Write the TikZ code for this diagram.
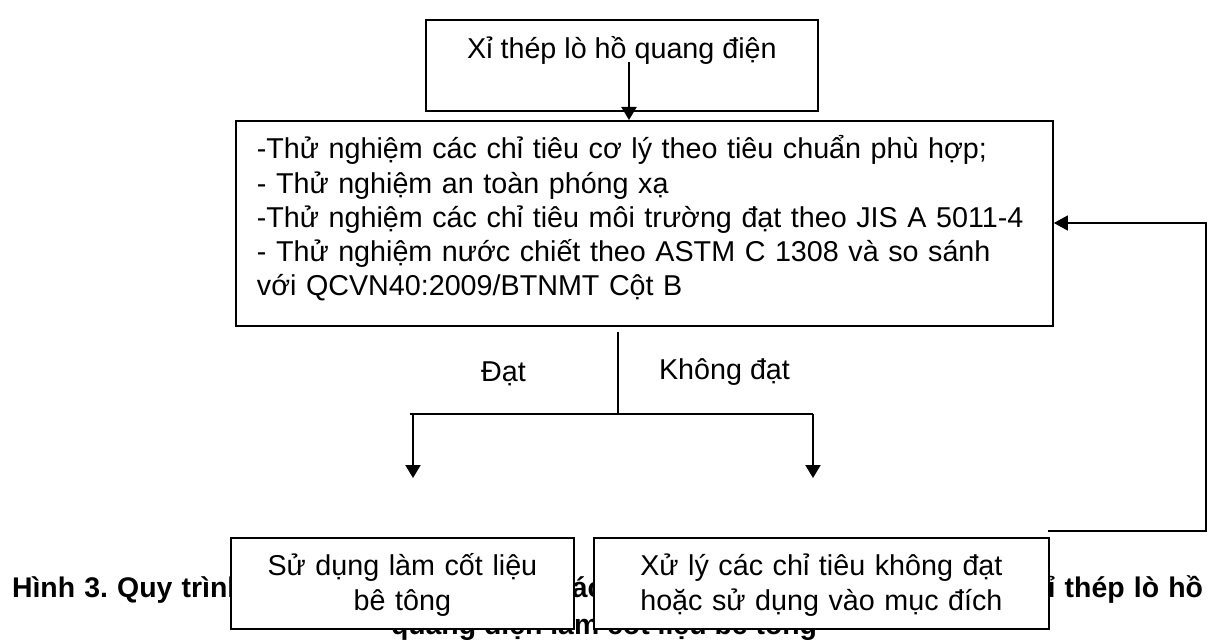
\documentclass[tikz,border=0pt]{standalone}
\usepackage{fontspec}
\setmainfont{Liberation Sans}
\usetikzlibrary{arrows.meta}
\tikzset{every node/.append style={font=\fontsize{14.35pt}{17.1pt}\selectfont}}
\tikzset{
  box/.style={draw,line width=0.9pt,fill=white,inner sep=0pt,anchor=north west},
  arr/.style={line width=1pt,-{Triangle[width=7.5pt,length=6.5pt]}},
  link/.style={line width=0.6pt},
  lbl/.style={anchor=base,inner sep=0pt},
  capt/.style={lbl,font=\fontsize{14.2pt}{17pt}\selectfont\bfseries\frenchspacing}
}

\begin{document}
\begin{tikzpicture}[x=0.5pt,y=-0.5pt]
  \useasboundingbox (0,0) rectangle (1208,642);
  % caption, partly hidden by the two lower boxes
  \node[capt] (cap1) at (607.5,597)
    {\makebox[595.5pt][s]{Hình 3. Quy trình thử nghiệm, đánh giá các chỉ tiêu cơ lý, môi trường của xỉ thép lò hồ}};
  \node[capt] (cap2) at (604,634) {quang điện làm cốt liệu bê tông};
  % boxes
  \node[box,minimum width=196pt,text height=19.5pt,text depth=26pt] (slag) at (425,19)
    {Xỉ thép lò hồ quang điện};
  \node[box,text width=387.5pt,inner xsep=10.5pt,align=left,text height=19pt,text depth=83.5pt] (test) at (235,120)
    {\begin{tabular}[t]{@{}l@{}}
     -Thử nghiệm các chỉ tiêu cơ lý theo tiêu chuẩn phù hợp;\\
     - Thử nghiệm an toàn phóng xạ\\
     -Thử nghiệm các chỉ tiêu môi trường đạt theo JIS A 5011-4\\
     - Thử nghiệm nước chiết theo ASTM C 1308 và so sánh\\
     với QCVN40:2009/BTNMT Cột B
     \end{tabular}};
  \node[box,text width=171.5pt,align=center,text height=19pt,text depth=26.5pt] (use) at (230,537)
    {Sử dụng làm cốt liệu\\bê tông};
  \node[box,text width=227.5pt,align=center,text height=19pt,text depth=26.5pt] (fix) at (593,537)
    {Xử lý các chỉ tiêu không đạt\\hoặc sử dụng vào mục đích};
  \node[lbl] (pass) at (503.5,381) {Đạt};
  \node[lbl] (fail) at (724.5,379) {Không đạt};
  % connectors
  \coordinate (tail) at (629,62);
  \coordinate (split) at (618,332);
  \coordinate (joint) at (618,414);
  \coordinate (passend) at (413,414);
  \coordinate (failend) at (813,414);
  \coordinate (passtip) at (413,478);
  \coordinate (failtip) at (813,478);
  \coordinate (back) at (1048,531);
  \coordinate (turn) at (1206,531);
  \coordinate (rise) at (1206,223);
  \draw[arr] (tail) -- (tail |- test.north);
  \draw[link] (split) -- (joint);
  \draw[link] ([xshift=-1.5pt]passend) -- (failend);
  \draw[arr] (passend) -- (passtip);
  \draw[arr] (failend) -- (failtip);
  \draw[link,-{Triangle[width=7.5pt,length=7pt]}] (back) -- (turn) -- (rise) -- (rise -| test.east);
\end{tikzpicture}
\end{document}
